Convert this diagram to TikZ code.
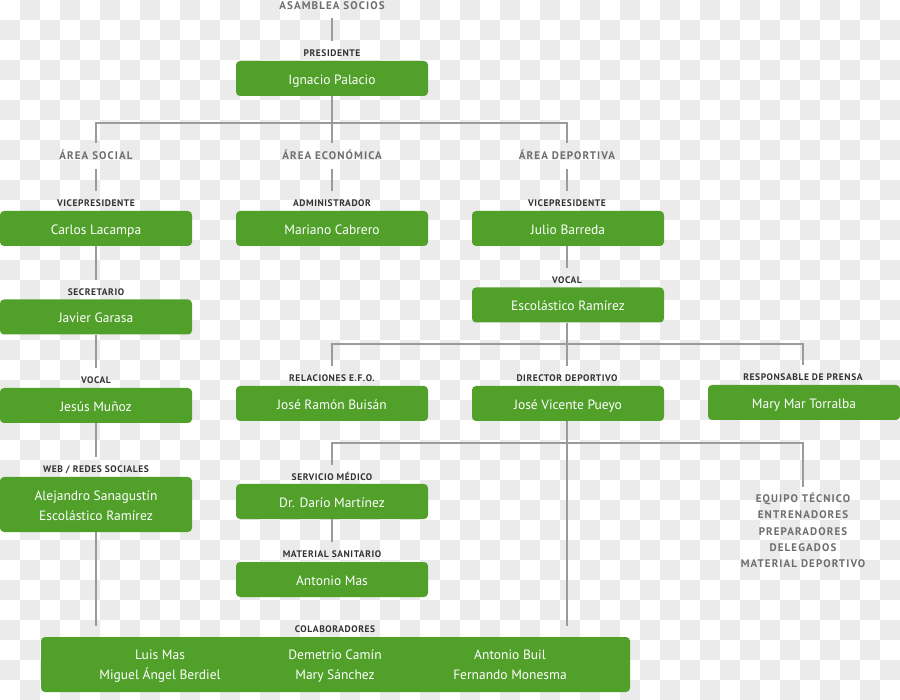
\documentclass[tikz,border=0pt]{standalone}
\usepackage{fontspec}
\setmainfont{PT Sans}
\newfontfamily\rolefont[LetterSpace=6]{PT Sans}
\newfontfamily\areafont[LetterSpace=10]{PT Sans}
\definecolor{boxgreen}{RGB}{80,160,42}
\definecolor{checkgray}{RGB}{235,235,235}
\definecolor{linegray}{RGB}{155,155,155}
\definecolor{lbldark}{RGB}{50,50,50}
\definecolor{lblgray}{RGB}{110,110,110}
\begin{document}
\begin{tikzpicture}[x=1pt,y=-1pt,
  boxbase/.style={fill=boxgreen, rounded corners=4pt, minimum width=192pt, minimum height=35pt,
    inner sep=0pt, text=white, font=\fontsize{13.5}{20}\selectfont},
  box/.style={boxbase, text height=11.5pt, text depth=0pt},
  boxtwo/.style={boxbase, align=center},
  role/.style={inner sep=0pt, outer ysep=9pt, text height=6.8pt, text depth=0pt, text=lbldark,
    font=\rolefont\bfseries\fontsize{9.5}{10}\selectfont},
  area/.style={inner sep=0pt, outer ysep=9pt, text height=8pt, text depth=0pt, text=lblgray,
    font=\areafont\bfseries\fontsize{11}{12}\selectfont},
  arealist/.style={inner sep=0pt, outer xsep=0pt, outer ysep=6pt, text=lblgray, align=center,
    font=\areafont\bfseries\fontsize{11}{16.3}\selectfont},
  colabtext/.style={inner sep=0pt, text=white, align=center, font=\fontsize{13.5}{20}\selectfont},
  conn/.style={draw=linegray, line width=2pt}]
\useasboundingbox (0,0) rectangle (900,700);
\fill[white] (0,0) rectangle (900,700);
\foreach \i in {0,...,44}{
  \foreach \j in {0,...,34}{
    \pgfmathtruncatemacro{\parity}{mod(\i+\j,2)}
    \ifnum\parity=1 \fill[checkgray] (\i*20,\j*20) rectangle ++(20,20); \fi
  }
}
% coordinates
\coordinate (hb1) at (0,123);
\coordinate (hb2) at (0,344);
\coordinate (hb3) at (0,443);
\coordinate (colabtop) at (0,626);
% top
\node[area] (asamblea) at (332,5.5) {ASAMBLEA SOCIOS};
\node[role] (lpres) at (332,53) {PRESIDENTE};
\node[box] (pres) at (332,78.5) {Ignacio Palacio};
\node[area] (social) at (96,156) {ÁREA SOCIAL};
\node[area] (economica) at (332,156) {ÁREA ECONÓMICA};
\node[area] (deportiva) at (567,156) {ÁREA DEPORTIVA};
\node[role] (lvice1) at (96,203) {VICEPRESIDENTE};
\node[role] (ladmin) at (332,203) {ADMINISTRADOR};
\node[role] (lvice2) at (567,203) {VICEPRESIDENTE};
\node[box] (carlos) at (96,228.5) {Carlos Lacampa};
\node[box] (mariano) at (332,228.5) {Mariano Cabrero};
\node[box] (julio) at (568,228.5) {Julio Barreda};
% social column
\node[role] (lsec) at (96,292) {SECRETARIO};
\node[box] (javier) at (96,317) {Javier Garasa};
\node[role] (lvocal1) at (96,380) {VOCAL};
\node[box] (jesus) at (96,405.5) {Jesús Muñoz};
\node[role] (lweb) at (96,469) {WEB / REDES SOCIALES};
\node[boxtwo, minimum height=55pt] (web) at (96,504.5) {\rule{0pt}{18pt}Alejandro Sanagustín\\\strut Escolástico Ramírez};
% deportiva column
\node[role] (lvocal2) at (567,280) {VOCAL};
\node[box] (escol) at (568,305) {Escolástico Ramírez};
\node[role] (lrel) at (332,378) {RELACIONES E.F.O.};
\node[role] (ldir) at (567,378) {DIRECTOR DEPORTIVO};
\node[role] (lprensa) at (803,377) {RESPONSABLE DE PRENSA};
\node[box] (ramon) at (332,403.5) {José Ramón Buisán};
\node[box] (vicente) at (568,403.5) {José Vicente Pueyo};
\node[box] (prensa) at (804,402.5) {Mary Mar Torralba};
\node[role] (lserv) at (332,477) {SERVICIO MÉDICO};
\node[box] (dario) at (332,501.5) {Dr. Darío Martínez};
\node[role] (lmat) at (332,554) {MATERIAL SANITARIO};
\node[box] (amas) at (332,579.5) {Antonio Mas};
\node[arealist, anchor=north] (equipo) at (803,487) {EQUIPO TÉCNICO\\ENTRENADORES\\PREPARADORES\\DELEGADOS\\MATERIAL DEPORTIVO};
% colaboradores
\node[role] (lcolab) at (335,629) {COLABORADORES};
\node[boxbase, minimum width=589pt, minimum height=55pt] (colab) at (335.5,664.5) {};
\node[colabtext] (c1) at (160,665.7) {\strut Luis Mas\\\strut Miguel Ángel Berdiel};
\node[colabtext] (c2) at (335,665.7) {\strut Demetrio Camín\\\strut Mary Sánchez};
\node[colabtext] (c3) at (510,665.7) {\strut Antonio Buil\\\strut Fernando Monesma};
% connectors
\draw[conn] (asamblea.south) -- (lpres.north);
\draw[conn] (pres.south) -- (economica.north);
\draw[conn] (social.north) |- (hb1 -| deportiva.north) -- (deportiva.north);
\draw[conn] (social.south) -- (lvice1.north);
\draw[conn] (economica.south) -- (ladmin.north);
\draw[conn] (deportiva.south) -- (lvice2.north);
\draw[conn] (carlos.south) -- (lsec.north);
\draw[conn] (javier.south) -- (lvocal1.north);
\draw[conn] (jesus.south) -- (lweb.north);
\draw[conn] (web.south) -- (web.south |- colabtop);
\draw[conn] (julio.south -| lvocal2) -- (lvocal2.north);
\draw[conn] (escol.south -| ldir) -- (ldir.north);
\draw[conn] (lrel.north) |- (hb2 -| lprensa.north) -- (lprensa.north);
\draw[conn] (vicente.south -| ldir) -- (ldir |- colabtop);
\draw[conn] (lserv.north) |- (hb3 -| equipo.north) -- (equipo.north);
\draw[conn] (dario.south) -- (lmat.north);
\end{tikzpicture}
\end{document}
